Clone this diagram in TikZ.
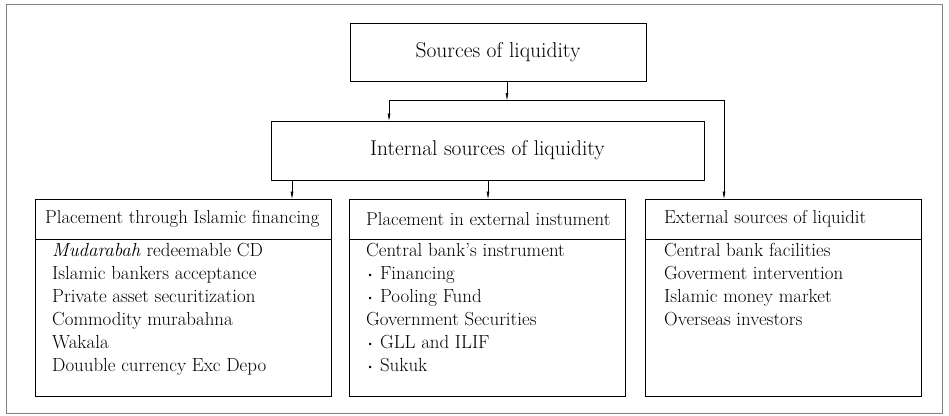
\documentclass[tikz,border=0pt]{standalone}
\usetikzlibrary{arrows.meta}
\newcommand{\smbul}{\raisebox{0.12ex}{\scalebox{0.6}{\textbullet}}\ }
\begin{document}
\begin{tikzpicture}[x=1pt,y=-1pt,
  box/.style={draw, line width=0.8pt, inner sep=0pt, anchor=center},
  arr/.style={line width=0.6pt, -{Triangle[length=7pt,width=2.6pt]}},
  lin/.style={line width=0.6pt},
  txt/.style={font=\fontsize{18.9}{23}\selectfont, align=left, anchor=north west, inner sep=0pt},
  head/.style={font=\fontsize{18.7}{20}\selectfont, anchor=west, inner sep=0pt}
]
\useasboundingbox (0,0) rectangle (949,415);
\draw[line width=0.9pt, gray] (6,4) rectangle (942,413);
% top boxes
\node[box, minimum width=296pt, minimum height=58pt, font=\fontsize{21.5}{24}\selectfont] (src) at (498,52) {Sources of liquidity};
\node[box, minimum width=433pt, minimum height=59pt, font=\fontsize{21.4}{24}\selectfont] (int) at (487.5,150.5) {Internal sources of liquidity};
% bottom boxes
\node[box, minimum width=296pt, minimum height=40pt] (h1) at (183,219) {};
\node[box, minimum width=296pt, minimum height=157pt] (b1) at (183,317.5) {};
\node[box, minimum width=276pt, minimum height=40pt] (h2) at (487,219) {};
\node[box, minimum width=276pt, minimum height=157pt] (b2) at (487,317.5) {};
\node[box, minimum width=276pt, minimum height=40pt] (h3) at (783,219) {};
\node[box, minimum width=276pt, minimum height=157pt] (b3) at (783,317.5) {};
% headers
\node[head] (t1) at (45,219) {Placement through Islamic financing};
\node[head] (t2) at (366,219) {Placement in external instument};
\node[head] (t3) at (664,219) {External sources of liquidit};
% lists
\node[txt] (l1) at (52,243) {\textit{Mudarabah} redeemable CD\\Islamic bankers acceptance\\Private asset securitization\\Commodity murabahna\\Wakala\\Douuble currency Exc Depo};
\node[txt] (l2) at (366,243) {Central bank's instrument\\\smbul Financing\\\smbul Pooling Fund\\Government Securities\\\smbul GLL and ILIF\\\smbul Sukuk};
\node[txt] (l3) at (664,243) {Central bank facilities\\Goverment intervention\\Islamic money market\\Overseas investors};
% connectors
\coordinate (j) at (507,100);
\coordinate (jl) at (389,100);
\coordinate (jr) at (724,100);
\draw[arr] (src.south -| j) -- (j);
\draw[lin] (jl) -- (jr);
\draw[arr] (jl) -- (jl |- int.north);
\draw[arr] (jr) -- (jr |- h3.north);
\draw[arr] (int.south -| 292,0) -- (h1.north -| 292,0);
\draw[arr] (int.south -| 488,0) -- (h2.north -| 488,0);
\end{tikzpicture}
\end{document}
